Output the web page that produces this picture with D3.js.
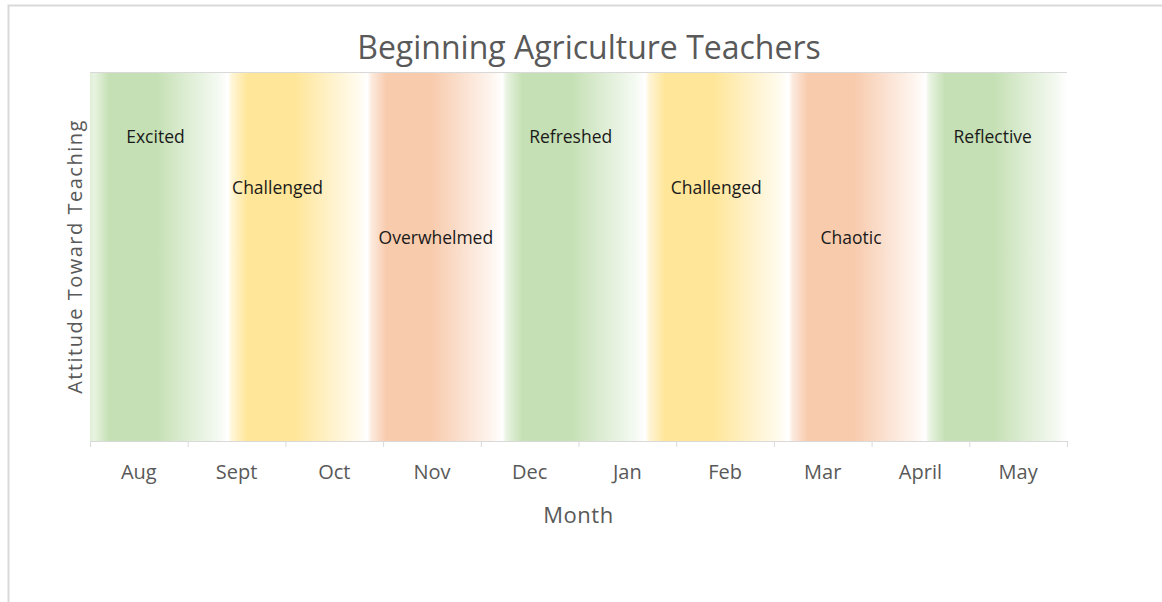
<html>
<head>
<meta charset="UTF-8">
<title>Beginning Agriculture Teachers</title>
<style>
	body { margin: 0; background: #fff; }
	text { font-family: "Open Sans", sans-serif; }
</style>
</head>
<body>
<script src="https://cdnjs.cloudflare.com/ajax/libs/d3/7.8.5/d3.min.js"></script>
<script>
	// data
	var months = ["Aug", "Sept", "Oct", "Nov", "Dec", "Jan", "Feb", "Mar", "April", "May"];
	var phases = ["Excited", "Challenged", "Overwhelmed", "Refreshed", "Challenged", "Chaotic", "Reflective"];
	var phaseStart = [0, 1.41, 2.84, 4.22, 5.68, 7.15, 8.55];   // in months from start of Aug
	var phaseEnd   = [1.41, 2.84, 4.22, 5.68, 7.15, 8.55, 10];
	var attitude   = [6, 5, 4, 6, 5, 4, 6];                      // label height
	var labelPos   = [0.67, 1.92, 3.54, 4.92, 6.41, 7.79, 9.24]; // label centre, in months
	var phaseColor = ["#c5e0b4", "#ffe699", "#f8cbad", "#c5e0b4", "#ffe699", "#f8cbad", "#c5e0b4"];

	var W = 1162, H = 602;
	var margin = {top: 72, right: 95, bottom: 161, left: 90},
		width = W - margin.left - margin.right,
		height = H - margin.top - margin.bottom;

	var svg = d3.select("body").append("svg")
		.attr("width", W)
		.attr("height", H);

	// outer chart border
	svg.append("rect")
		.attr("x", 8.5).attr("y", 5.5)
		.attr("width", W + 20).attr("height", H + 20)
		.attr("fill", "none")
		.attr("stroke", "#d9d9d9")
		.attr("stroke-width", 2);

	var g = svg.append("g")
		.attr("transform", "translate(" + margin.left + "," + margin.top + ")");

	var x = d3.scaleBand().domain(months).range([0, width]).padding(0);
	var xc = d3.scaleLinear().domain([0, months.length]).range([0, width]);
	var y = d3.scaleLinear().domain([0, 7.28]).range([height, 0]);

	// gradients
	var defs = svg.append("defs");
	phaseColor.forEach(function(c, i) {
		var lg = defs.append("linearGradient")
			.attr("id", "grad" + i)
			.attr("x1", "0%").attr("x2", "100%").attr("y1", "0%").attr("y2", "0%");
		var light = d3.interpolateRgb(c, "#ffffff");
		var stops = [
			[0, i === 0 ? light(0.45) : "#ffffff"],
			[0.03, light(0.6)],
			[0.14, c],
			[0.48, c],
			[0.72, light(0.45)],
			[0.92, light(0.8)],
			[1, "#ffffff"]
		];
		stops.forEach(function(s) {
			lg.append("stop").attr("offset", s[0]).attr("stop-color", s[1]);
		});
	});

	g.selectAll(".band")
		.data(phases)
		.enter().append("rect")
		.attr("class", "band")
		.attr("x", function(d, i) { return xc(phaseStart[i]); })
		.attr("y", y(7.28))
		.attr("width", function(d, i) { return xc(phaseEnd[i]) - xc(phaseStart[i]); })
		.attr("height", y(0) - y(7.28))
		.attr("fill", function(d, i) { return "url(#grad" + i + ")"; });

	// top gridline
	g.append("line")
		.attr("x1", 0).attr("x2", width)
		.attr("y1", y(7.28) + 0.5).attr("y2", y(7.28) + 0.5)
		.attr("stroke", "#d9d9d9");

	// phase labels
	g.selectAll(".lab")
		.data(phases)
		.enter().append("text")
		.attr("class", "lab")
		.attr("x", function(d, i) { return xc(labelPos[i]); })
		.attr("y", function(d, i) { return y(attitude[i]); })
		.attr("dy", "0.35em")
		.attr("text-anchor", "middle")
		.attr("font-size", 17.5)
		.attr("fill", "#1a1a1a")
		.text(function(d) { return d; });

	// x axis
	var ax = g.append("g")
		.attr("transform", "translate(0," + height + ")")
		.call(d3.axisBottom(x).tickSize(0).tickPadding(24));
	ax.select(".domain").attr("stroke", "#d9d9d9");
	ax.selectAll("text").attr("font-size", 20).attr("fill", "#595959")
		.style("font-family", "'Open Sans', sans-serif");

	// tick marks on band edges
	g.selectAll(".tk")
		.data(d3.range(months.length + 1))
		.enter().append("line")
		.attr("class", "tk")
		.attr("x1", function(d) { return xc(d) + 0.5; })
		.attr("x2", function(d) { return xc(d) + 0.5; })
		.attr("y1", height).attr("y2", height + 6)
		.attr("stroke", "#d9d9d9");

	// titles
	svg.append("text")
		.attr("x", 589)
		.attr("y", 59)
		.attr("text-anchor", "middle")
		.attr("font-size", 32)
		.attr("fill", "#595959")
		.text("Beginning Agriculture Teachers");

	svg.append("text")
		.attr("x", margin.left + width / 2)
		.attr("y", 523)
		.attr("text-anchor", "middle")
		.attr("font-size", 22)
		.attr("letter-spacing", 0.5)
		.attr("fill", "#595959")
		.text("Month");

	svg.append("text")
		.attr("transform", "translate(82," + (margin.top + height / 2) + ") rotate(-90)")
		.attr("text-anchor", "middle")
		.attr("font-size", 20)
		.attr("letter-spacing", 1.5)
		.attr("fill", "#595959")
		.text("Attitude Toward Teaching");
</script>
</body>
</html>
